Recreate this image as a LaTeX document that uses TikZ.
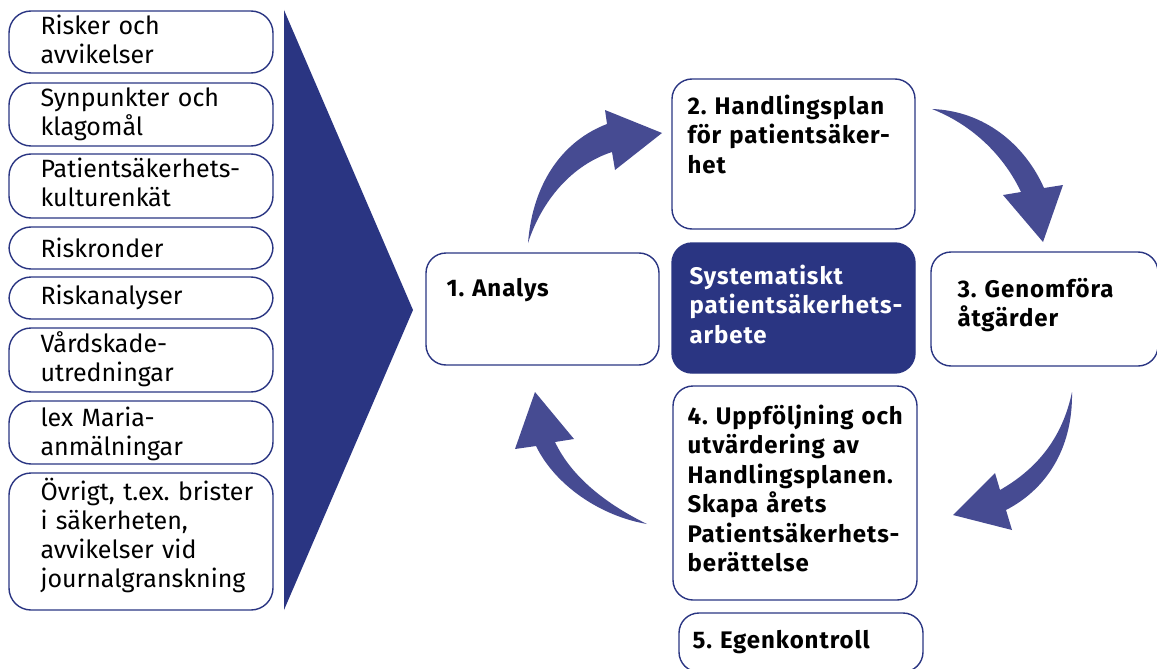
\documentclass[tikz,border=0pt]{standalone}
\usepackage{fontspec}
\setmainfont{Fira Sans}
\newfontfamily\rfont[LetterSpace=4.0]{Fira Sans}
\usepackage{tikz}
\usetikzlibrary{positioning}

\definecolor{navy}{HTML}{2A3582}
\definecolor{arrblue}{HTML}{464B92}

\begin{document}
\frenchspacing
\begin{tikzpicture}[x=1pt,y=-1pt]
\tikzset{lbox/.style={draw=navy, line width=1.4pt, rounded corners=22pt, minimum width=264pt}}
\tikzset{rbox/.style={draw=navy, line width=1.4pt, rounded corners=20pt}}
\tikzset{ltext/.style={anchor=base west, inner sep=0pt, text width=240pt, align=left, font=\fontsize{25}{29}\selectfont}}
\tikzset{rtext/.style={anchor=base west, inner sep=0pt, text width=240pt, align=left, font=\rfont\fontsize{24}{29.5}\selectfont\bfseries}}
\tikzset{arr/.style={fill=arrblue}}
\useasboundingbox (0,0) rectangle (1157,669);

\node[lbox, minimum height=62pt] (risk) at (141,42) {};
\node[lbox, minimum height=63pt] (synp) at (141,114.5) {};
\node[lbox, minimum height=64pt] (kult) at (141,186) {};
\node[lbox, minimum height=42pt] (rond) at (141,248) {};
\node[lbox, minimum height=42pt] (rana) at (141,298) {};
\node[lbox, minimum height=64pt] (vard) at (141,360) {};
\node[lbox, minimum height=63pt] (lexm) at (141,432.5) {};
\node[lbox, minimum height=137pt] (ovri) at (141,541.5) {};

\node[ltext, xshift=32pt, yshift=-24pt] (risk-t) at (risk.north west) {Risker och\\avvikelser};
\node[ltext, xshift=32pt, yshift=-24pt] (synp-t) at (synp.north west) {Synpunkter och\\klagomål};
\node[ltext, xshift=32pt, yshift=-24pt] (kult-t) at (kult.north west) {Patientsäkerhets-\\kulturenkät};
\node[ltext, xshift=32pt, yshift=-31pt] (rond-t) at (rond.north west) {Riskronder};
\node[ltext, xshift=32pt, yshift=-28pt] (rana-t) at (rana.north west) {Riskanalyser};
\node[ltext, xshift=32pt, yshift=-25pt] (vard-t) at (vard.north west) {Vårdskade-\\utredningar};
\node[ltext, xshift=32pt, yshift=-26pt] (lexm-t) at (lexm.north west) {lex Maria-\\anmälningar};
\node[ltext, xshift=32pt, yshift=-28pt] (ovri-t) at (ovri.north west) {Övrigt, t.ex. brister\\i säkerheten,\\avvikelser vid\\journalgranskning};

\coordinate (wtop) at (284,10);
\coordinate (wtip) at (413,310);
\coordinate (wbot) at (284,610);
\fill[navy] (wtop) -- (wtip) -- (wbot) -- cycle;

\node[rbox, minimum width=233pt, minimum height=112pt] (analys) at (542.5,309) {};
\node[rbox, minimum width=243pt, minimum height=150pt] (plan) at (793.5,154) {};
\node[rbox, fill=navy, minimum width=243pt, minimum height=130pt] (spsa) at (793.5,308) {};
\node[rbox, minimum width=227pt, minimum height=114pt] (genom) at (1044.5,309) {};
\node[rbox, minimum width=244pt, minimum height=214pt] (uppf) at (795,493) {};
\node[rbox, minimum width=244pt, minimum height=59pt] (egen) at (801,642.5) {};

\node[rtext, xshift=21pt, yshift=-44pt] (analys-t) at (analys.north west) {1. Analys};
\node[rtext, xshift=16pt, yshift=-36pt] (plan-t) at (plan.north west) {2. Handlingsplan\\för patientsäker-\\het};
\node[rtext, text=white, xshift=18pt, yshift=-42pt] (spsa-t) at (spsa.north west) {Systematiskt\\patientsäkerhets-\\arbete};
\node[rtext, xshift=27pt, yshift=-46pt] (genom-t) at (genom.north west) {3. Genomföra\\åtgärder};
\node[rtext, xshift=15pt, yshift=-39pt] (uppf-t) at (uppf.north west) {4. Uppföljning och\\utvärdering av\\Handlingsplanen.\\Skapa årets\\Patientsäkerhets-\\berättelse};
\node[rtext, xshift=14pt, yshift=-36pt] (egen-t) at (egen.north west) {5. Egenkontroll};

\coordinate (a1s) at (528,243);
\coordinate (a1t) at (662,133);
\coordinate (a2s) at (932,109);
\coordinate (a2t) at (1043,242);
\coordinate (a3s) at (1072,392);
\coordinate (a3t) at (953,515);
\coordinate (a4s) at (647,524);
\coordinate (a4t) at (535,392);
\fill[arr] (a1s) .. controls (533,180) and (565,140) .. (607,124) -- (605,110) -- (a1t) -- (615,170) -- (612,152) .. controls (572,165) and (542,200) .. (a1s) -- cycle;
\fill[arr] (a2s) .. controls (985,111) and (1025,145) .. (1044,188) -- (1063,185) -- (a2t) -- (1003,195) -- (1021,192) .. controls (1005,158) and (975,126) .. (a2s) -- cycle;
\fill[arr] (a3s) .. controls (1073,450) and (1045,490) .. (1006,510) -- (1012,530) -- (a3t) -- (995,473) -- (1000,490) .. controls (1035,470) and (1062,440) .. (a3s) -- cycle;
\fill[arr] (a4s) .. controls (600,516) and (555,485) .. (536,446) -- (515,449) -- (a4t) -- (574,439) -- (555,442) .. controls (572,478) and (608,505) .. (a4s) -- cycle;
\end{tikzpicture}
\end{document}
